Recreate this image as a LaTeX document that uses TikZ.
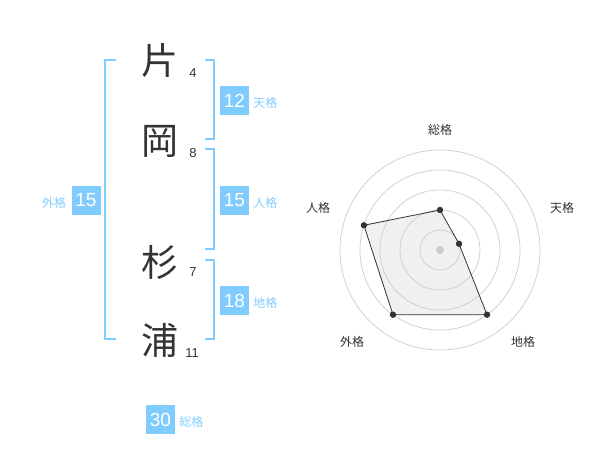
\documentclass[tikz,border=0pt]{standalone}
\usepackage{fontspec}
\setmainfont{Liberation Sans}
\newfontfamily\cjk{Noto Sans CJK JP}
\usetikzlibrary{positioning}
\definecolor{kakuBlue}{HTML}{80CCFF}
\definecolor{inkGray}{HTML}{333333}
\definecolor{ringGray}{HTML}{CCCCCC}
\definecolor{areaGray}{HTML}{F0F0F0}

\tikzset{
  kanji/.style={text=inkGray,inner sep=0pt,font=\fontsize{37}{37}\cjk},
  strokes/.style={text=inkGray,inner sep=0pt,font=\fontsize{13}{13}\selectfont},
  valbox/.style={fill=kakuBlue,text=white,minimum size=29pt,inner sep=0pt,font=\fontsize{19}{19}\selectfont},
  kaku/.style={text=kakuBlue,inner sep=0pt,font=\fontsize{12}{12}\cjk},
  bracket/.style={draw=kakuBlue,line width=2pt},
  axislabel/.style={text=inkGray,inner sep=0pt,font=\fontsize{12}{12}\cjk},
  dot/.style={fill=inkGray}
}

\begin{document}
\begin{tikzpicture}[x=1pt,y=-1pt]
  \useasboundingbox (0,0) rectangle (600,470);

  %% name column
  \node[kanji] (k1) at (160,60) {片};
  \node[kanji] (k2) at (160,141) {岡};
  \node[kanji] (k3) at (160,262) {杉};
  \node[kanji] (k4) at (160,340) {浦};

  \node[strokes] (n1) at (193,73) {4};
  \node[strokes] (n2) at (193,153) {8};
  \node[strokes] (n3) at (193,272) {7};
  \node[strokes] (n4) at (192,353) {11};

  % brackets
  \draw[bracket] (116,60) -| (105,339) -- (116,339);
  \draw[bracket] (205,60) -| (214,139) -- (205,139);
  \draw[bracket] (205,149) -| (214,249) -- (205,249);
  \draw[bracket] (205,260) -| (214,339) -- (205,339);

  % values
  \node[valbox] (ten) at (234.5,100.5) {12};
  \node[kaku,right=4pt of ten,yshift=-2pt] (tenL) {天格};
  \node[valbox] (jin) at (234.5,200.5) {15};
  \node[kaku,right=4pt of jin,yshift=-2pt] (jinL) {人格};
  \node[valbox] (chi) at (234.5,300.5) {18};
  \node[kaku,right=4pt of chi,yshift=-2pt] (chiL) {地格};
  \node[valbox] (gai) at (86,200.5) {15};
  \node[kaku,left=5pt of gai,yshift=-2pt] (gaiL) {外格};
  \node[valbox] (sou) at (160.5,419.5) {30};
  \node[kaku,right=4pt of sou,yshift=-2pt] (souL) {総格};

  %% radar chart
  \begin{scope}[shift={(440,250)},y=1pt]
    \coordinate (pSou) at (90:40);
    \coordinate (pTen) at (18:20);
    \coordinate (pChi) at (-54:80);
    \coordinate (pGai) at (234:80);
    \coordinate (pJin) at (162:80);

    \fill[areaGray] (pSou) -- (pTen) -- (pChi) -- (pGai) -- (pJin) -- cycle;
    \foreach \r in {20,40,...,100}
      \draw[ringGray,line width=0.7pt] (0,0) circle (\r);
    \draw[inkGray,line width=0.8pt] (pSou) -- (pTen) -- (pChi) -- (pGai) -- (pJin) -- cycle;
    \fill[ringGray] (0,0) circle (4);
    \foreach \p in {pSou,pTen,pChi,pGai,pJin}
      \fill[dot] (\p) circle (3.2);
  \end{scope}

  \node[axislabel] (lSou) at (440,130) {総格};
  \node[axislabel] (lTen) at (562,208) {天格};
  \node[axislabel] (lJin) at (318,208) {人格};
  \node[axislabel] (lGai) at (352,342) {外格};
  \node[axislabel] (lChi) at (523,342) {地格};
\end{tikzpicture}
\end{document}
